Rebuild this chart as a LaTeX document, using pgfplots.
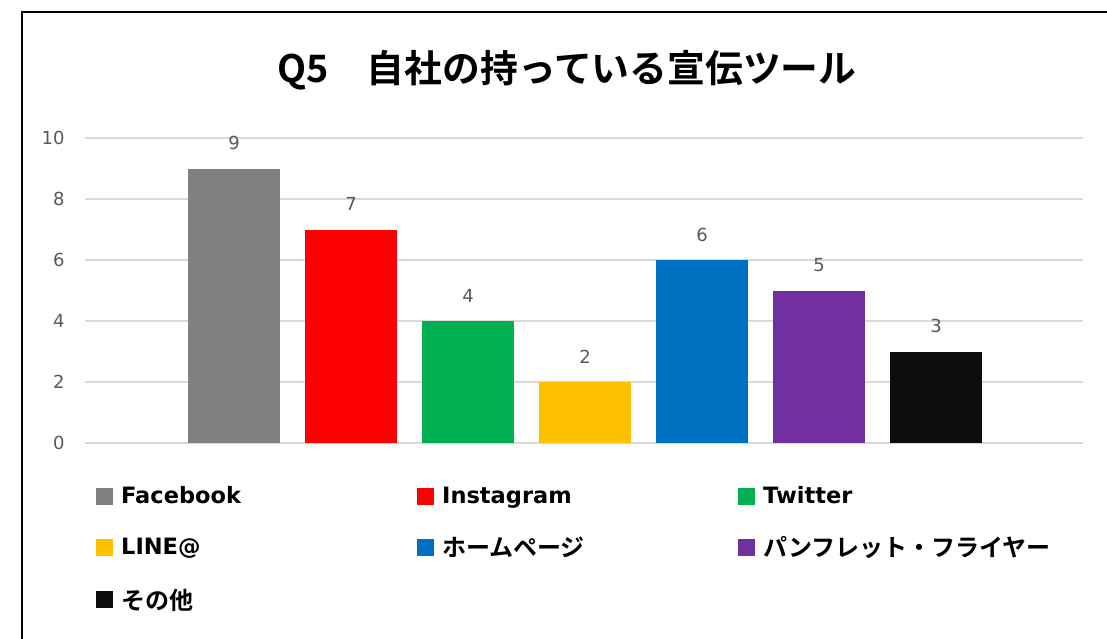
\documentclass[border=0pt]{standalone}
\usepackage{fontspec}
\setmainfont{Noto Sans CJK JP}[BoldFont={Noto Sans CJK JP Bold}]
\newfontfamily\dejavu{DejaVu Sans}
\usepackage{pgfplots}
\pgfplotsset{compat=1.18}
\definecolor{cfb}{HTML}{808080}
\definecolor{cig}{HTML}{FF0000}
\definecolor{ctw}{HTML}{00B050}
\definecolor{cline}{HTML}{FFC000}
\definecolor{chp}{HTML}{0070C0}
\definecolor{cpf}{HTML}{7030A0}
\definecolor{cot}{HTML}{0D0D0D}
\definecolor{tickgray}{HTML}{595959}
\definecolor{gridgray}{HTML}{D9D9D9}
\newcommand{\lat}[1]{\makebox[288pt][l]{\dejavu\bfseries\fontsize{22.5}{26}\selectfont #1}}
\newcommand{\jp}[1]{\makebox[288pt][l]{#1}}
\begin{document}
\begin{tikzpicture}
\useasboundingbox (-85pt,-195pt) rectangle (1022pt,443pt);
\draw[line width=2pt,black] (-63pt,-300pt) -- (-63pt,431pt) -- (1200pt,431pt);
\node[font=\bfseries\fontsize{37.8}{40}\selectfont] at (482pt,373pt) {Q5　自社の持っている宣伝ツール};
\begin{axis}[
  at={(0pt,0pt)}, anchor=south west,
  scale only axis, width=998pt, height=305pt,
  xmin=-1.274, xmax=7.256, ymin=0, ymax=10,
  ytick={0,2,...,10}, xtick=\empty,
  axis line style={draw=none},
  major tick length=0pt,
  ymajorgrids, grid style={gridgray, line width=1.5pt},
  yticklabel style={font=\dejavu\fontsize{18}{20}\selectfont, text=tickgray, xshift=-17pt},
  /pgf/number format/assume math mode=true,
  clip=false,
  nodes near coords,
  nodes near coords style={font=\dejavu\fontsize{18}{20}\selectfont, text=tickgray, anchor=south, yshift=15pt},
  legend columns=3,
  legend cell align=left,
  legend style={at={(0.011,-0.143)}, anchor=north west, draw=none, inner sep=0pt,
    column sep=0pt, row sep=31pt,
    font=\bfseries\fontsize{24}{26}\selectfont,
    nodes={inner xsep=8pt, inner ysep=0pt}},
]
\pgfplotsset{every axis plot/.append style={ybar, bar width=92pt, bar shift=0pt, draw=none,
  legend image code/.code={\fill[##1] (0pt,-8.5pt) rectangle (17pt,8.5pt);}}}
\addplot[fill=cfb] coordinates {(0,9)};
\addlegendentry{\lat{Facebook}}
\addplot[fill=cig] coordinates {(1,7)};
\addlegendentry{\lat{Instagram}}
\addplot[fill=ctw] coordinates {(2,4)};
\addlegendentry{\lat{Twitter}}
\addplot[fill=cline] coordinates {(3,2)};
\addlegendentry{\lat{LINE@}}
\addplot[fill=chp] coordinates {(4,6)};
\addlegendentry{\jp{ホームページ}}
\addplot[fill=cpf] coordinates {(5,5)};
\addlegendentry{\jp{パンフレット・フライヤー}}
\addplot[fill=cot] coordinates {(6,3)};
\addlegendentry{\jp{その他}}
\end{axis}
\end{tikzpicture}
\end{document}
